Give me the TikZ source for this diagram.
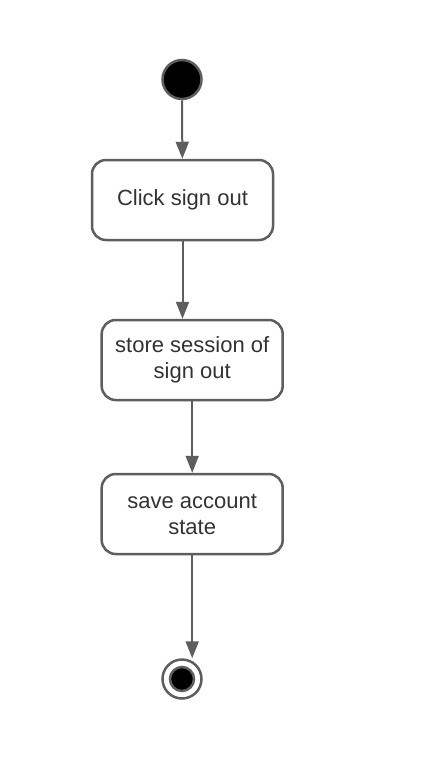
\documentclass[tikz,border=0pt]{standalone}
\usepackage{fontspec}
\setmainfont{Liberation Sans}
\usetikzlibrary{arrows.meta}
\definecolor{edgegray}{HTML}{5E5E5E}
\definecolor{textgray}{HTML}{333333}
\tikzset{
  activity/.style={draw=edgegray,line width=2.5pt,rounded corners=14pt,fill=white,
    minimum width=181pt,minimum height=80pt,align=center,text=textgray,
    font=\fontsize{22}{26}\selectfont},
  flow/.style={draw=edgegray,line width=2pt,-{Triangle[length=17pt,width=13pt]}},
  startstate/.style={circle,draw=edgegray,line width=2.5pt,fill=black,minimum size=39pt,inner sep=0pt},
  endring/.style={circle,draw=edgegray,line width=2.5pt,fill=white,minimum size=39pt,inner sep=0pt},
  endstate/.style={circle,draw=edgegray,line width=2.5pt,fill=black,minimum size=24pt,inner sep=0pt}
}

\begin{document}
\begin{tikzpicture}[x=1pt,y=1pt]
\useasboundingbox[fill=white] (0.000000, 0.000000) rectangle (443.000000, -761.000000);
% Drawing states
\node[startstate] (start) at (182.000000, -79.500000) {};
\node[activity] (clicksignout) at (182.500000, -200.000000) {Click sign out};
\node[activity] (storesession) at (192.200000, -360.000000) {store session of\\sign out};
\node[activity] (saveaccount) at (192.200000, -514.000000) {save account\\state};
\node[endring] (finish) at (182.000000, -679.000000) {};
\node[endstate] (finishdot) at (finish) {};
% Done with states; drawing transitions
\draw[flow] (start) -- (clicksignout);
\draw[flow] (clicksignout.south) -- (clicksignout.south |- storesession.north);
\draw[flow] (storesession) -- (saveaccount);
\draw[flow] (saveaccount.south) -- (saveaccount.south |- finish.north);
% Done with transitions
\end{tikzpicture}
\end{document}
